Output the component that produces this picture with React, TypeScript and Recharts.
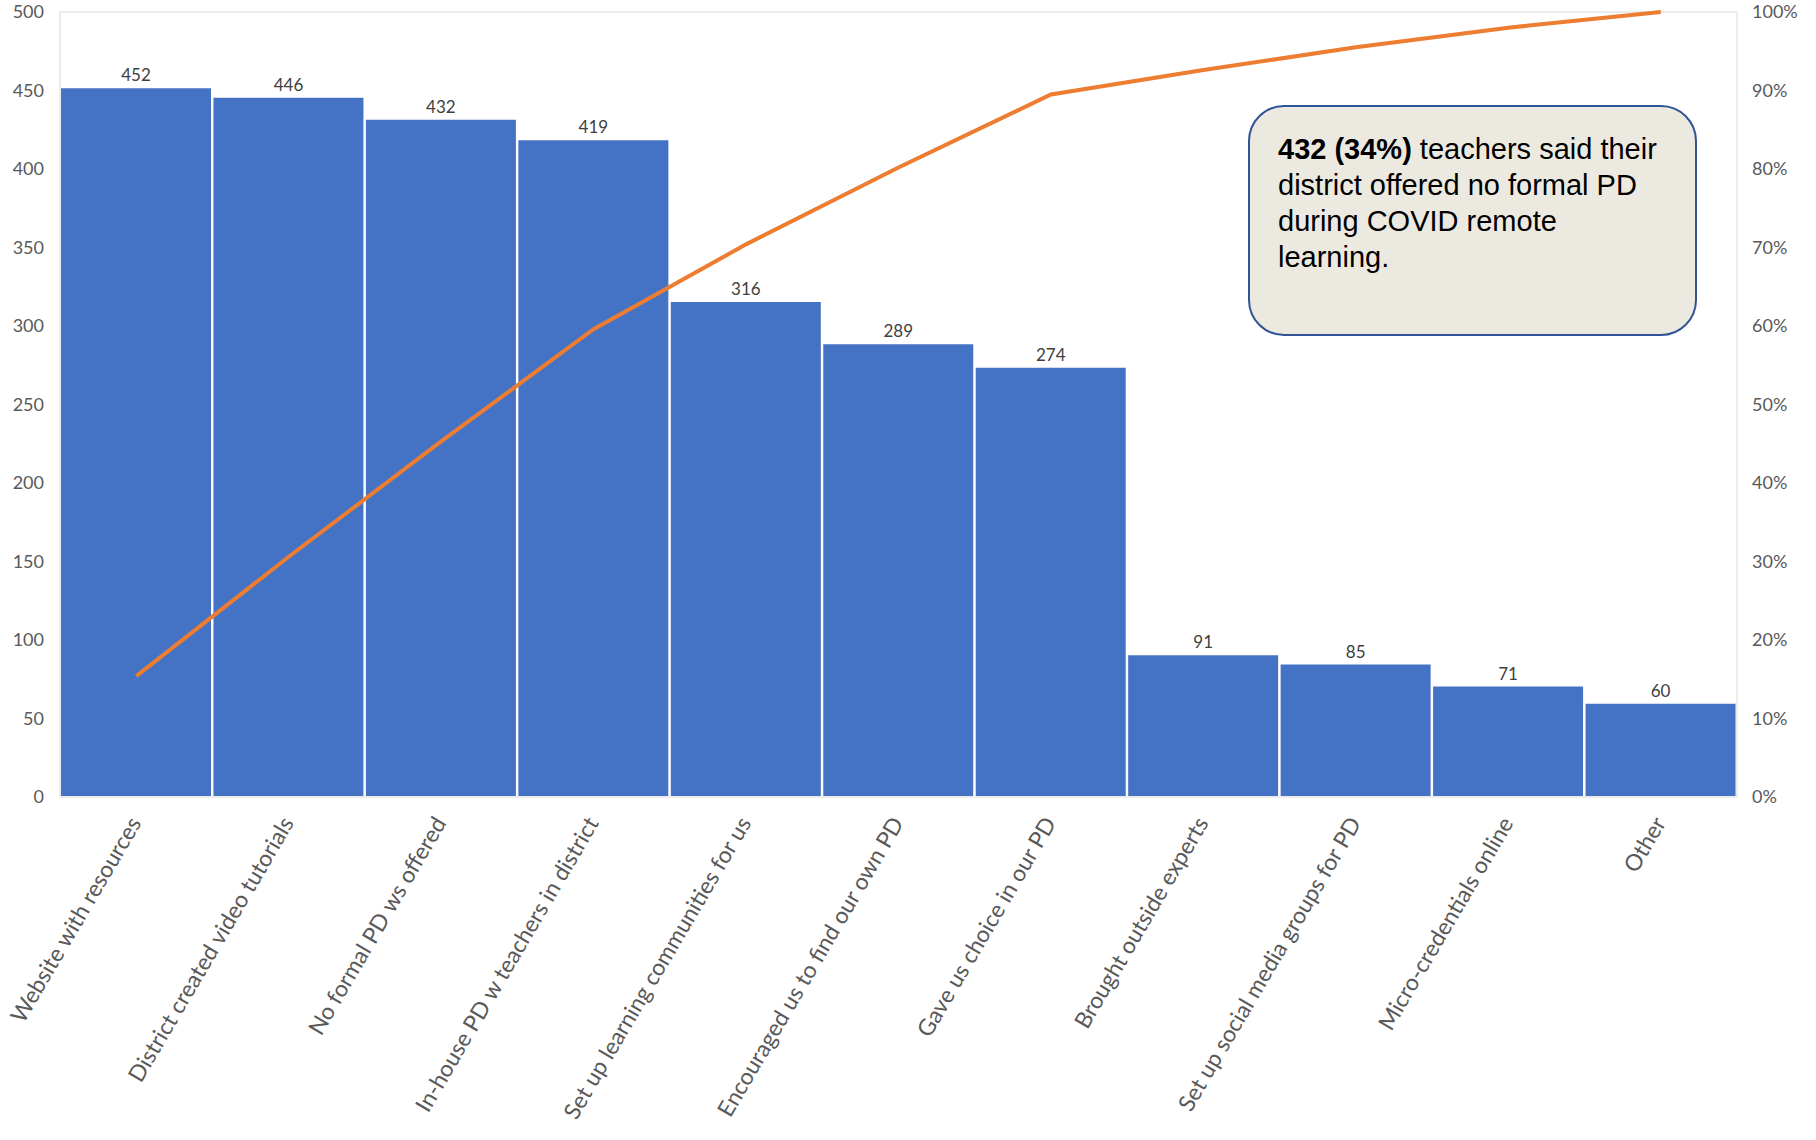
import React from 'react'
import {
  ComposedChart,
  Bar,
  Line,
  XAxis,
  YAxis,
  CartesianGrid,
  LabelList,
} from 'recharts'

const categories = [
  'Website with resources',
  'District created video tutorials',
  'No formal PD ws offered',
  'In-house PD w teachers in district',
  'Set up learning communities for us',
  'Encouraged us to find our own PD',
  'Gave us choice in our PD',
  'Brought outside experts',
  'Set up social media groups for PD',
  'Micro-credentials online',
  'Other',
]
const counts = [452, 446, 432, 419, 316, 289, 274, 91, 85, 71, 60]
// cumulative share
const cumulativePct = [15.4, 30.6, 45.3, 59.6, 70.4, 80.2, 89.5, 92.6, 95.5, 98, 100]
const countTicks = [0, 50, 100, 150, 200, 250, 300, 350, 400, 450, 500]
const pctTicks = [0, 10, 20, 30, 40, 50, 60, 70, 80, 90, 100]

const data = categories.map((name, i) => ({
  name,
  count: counts[i],
  pct: cumulativePct[i],
}))

const font = 'Lato, "Liberation Sans", sans-serif'

const CategoryTick = (props: any) => {
  const { x, y, payload } = props
  return (
    <g transform={`translate(${x - 1},${y + 14}) rotate(-59.5)`}>
      <text
        x={0}
        y={0}
        dy="0.35em"
        textAnchor="end"
        fill="#595959"
        fontSize={22.8}
        fontFamily={font}
      >
        {payload.value}
      </text>
    </g>
  )
}

export default function App() {
  return (
    <div
      style={{
        position: 'absolute',
        left: 0,
        top: 0,
        width: 1816,
        height: 1140,
        background: '#fff',
      }}
    >
      <ComposedChart
        width={1816}
        height={1140}
        data={data}
        margin={{ top: 12, right: 0, bottom: 0, left: 0 }}
        barCategoryGap={0}
        barGap={0}
      >
        <CartesianGrid vertical={false} stroke="#d9d9d9" />
        <XAxis
          dataKey="name"
          height={343}
          interval={0}
          tick={<CategoryTick />}
          tickLine={false}
          axisLine={{ stroke: '#d9d9d9' }}
        />
        <YAxis
          yAxisId="left"
          width={60}
          domain={[0, 500]}
          ticks={countTicks}
          tickLine={false}
          tickMargin={10}
          axisLine={{ stroke: '#d9d9d9' }}
          tick={{ fill: '#595959', fontSize: 18, fontFamily: font }}
        />
        <YAxis
          yAxisId="right"
          orientation="right"
          width={79}
          domain={[0, 100]}
          ticks={pctTicks}
          tickFormatter={(v) => `${v}%`}
          tickLine={false}
          tickMargin={9}
          axisLine={{ stroke: '#d9d9d9' }}
          tick={{ fill: '#595959', fontSize: 18, fontFamily: font }}
        />
        <Bar
          yAxisId="left"
          dataKey="count"
          fill="#4472C4"
          stroke="#ffffff"
          strokeWidth={2}
          isAnimationActive={false}
        >
          <LabelList
            dataKey="count"
            position="top"
            offset={6}
            fill="#404040"
            fontSize={17}
            fontFamily={font}
          />
        </Bar>
        <Line
          yAxisId="right"
          dataKey="pct"
          stroke="#ED7D31"
          strokeWidth={4}
          dot={false}
          activeDot={false}
          isAnimationActive={false}
        />
      </ComposedChart>
      <div
        style={{
          position: 'absolute',
          left: 1248,
          top: 105,
          width: 449,
          height: 231,
          boxSizing: 'border-box',
          border: '2.5px solid #2F5597',
          borderRadius: 36,
          background: '#ECEAE0',
          padding: '24px 0 0 28px',
          fontFamily: '"Liberation Sans", Arial, sans-serif',
          fontSize: 29,
          lineHeight: '36px',
          color: '#000',
        }}
      >
        <b>432 (34%)</b> teachers said their
        <br />
        district offered no formal PD
        <br />
        during COVID remote
        <br />
        learning.
      </div>
    </div>
  )
}
